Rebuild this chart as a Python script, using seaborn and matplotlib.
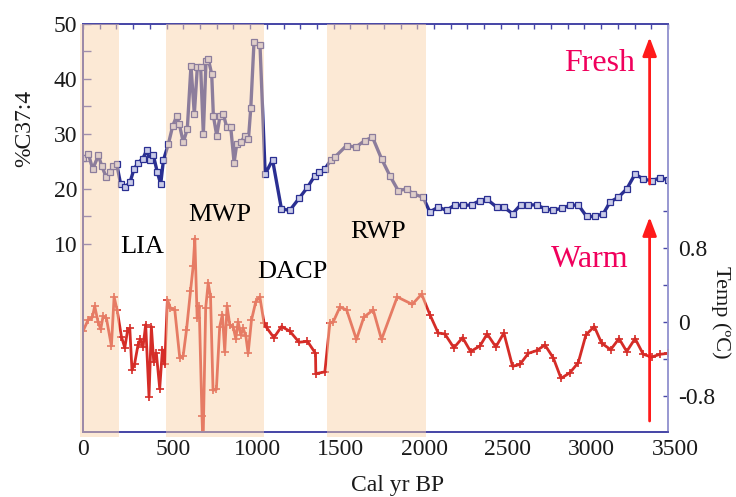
import matplotlib
matplotlib.use("Agg")
import matplotlib.pyplot as plt
import matplotlib.transforms as mtransforms
from matplotlib.ticker import FixedLocator
import pandas as pd
import seaborn as sns

# %C37:4 record (Cal yr BP, percent)
c37_years = [2, 32, 58, 92, 112, 138, 162, 182, 202,
             225, 251, 281, 305, 331, 357, 381, 401, 421, 445, 465, 481,
             511, 537, 560, 576, 600, 624, 646, 666, 684, 704, 720, 736, 750, 770,
             780, 800, 820, 840, 860, 884, 904, 920, 944, 970, 990, 1004, 1023, 1059, 1090,
             1134, 1187, 1237, 1293, 1343, 1387, 1413, 1447,
             1481, 1507, 1577, 1632, 1686, 1732, 1786, 1836, 1886, 1936, 1975, 2035,
             2075, 2125, 2175, 2225, 2276, 2325, 2375, 2418, 2475, 2518, 2570, 2618,
             2664, 2714, 2764, 2813, 2864, 2913, 2963, 3013, 3063, 3113, 3153, 3203,
             3253, 3303, 3352, 3402, 3452, 3500]
c37_pct = [25.6, 26.4, 23.6, 26.1, 24.2, 22.2, 23.1, 24.2, 24.5,
           20.9, 20.3, 21.2, 23.6, 24.8, 25.5, 27.0, 25.2, 26.1, 23.0, 20.9, 25.2,
           28.2, 31.5, 33.2, 31.8, 28.5, 30.9, 42.4, 33.6, 42.1, 42.1, 30.0, 43.3, 43.6, 40.9,
           33.3, 29.7, 33.3, 33.6, 31.2, 31.2, 24.8, 28.2, 28.5, 29.7, 29.1, 34.8, 46.7, 46.1, 22.7,
           25.3, 16.4, 16.1, 18.3, 20.3, 22.4, 23.0, 23.6,
           25.2, 25.8, 27.9, 27.6, 28.8, 29.4, 25.5, 22.4, 19.7, 20.0, 19.1, 18.5,
           15.8, 16.7, 16.1, 17.1, 17.0, 17.1, 17.9, 18.1, 16.7, 16.7, 15.5, 17.1,
           17.1, 17.1, 16.4, 16.1, 16.5, 17.0, 17.1, 15.0, 15.0, 15.5, 17.6, 18.5,
           20.0, 22.7, 21.8, 21.5, 22.0, 21.7]

# temperature anomaly record (Cal yr BP, deg C)
temp_years = [0, 30, 56, 70, 90, 106, 120, 140, 170, 186, 204,
              230, 250, 266, 280, 293, 309, 329, 343, 359, 375, 395, 409, 423, 439, 459, 475, 489,
              505, 523, 549, 579, 599, 619, 643, 659, 669, 683, 695, 712, 718, 734, 749, 763,
              778, 798, 818, 834, 848, 862, 878, 898, 914, 928, 944, 958, 974, 988, 1008,
              1034, 1058, 1083,
              1098, 1142, 1188, 1237, 1293, 1343, 1391, 1393, 1447,
              1477, 1497, 1537, 1577, 1636, 1680, 1736, 1786, 1880, 1970, 2026,
              2075, 2125, 2165, 2219, 2271, 2319, 2375, 2418, 2470, 2518, 2570, 2614,
              2664, 2714, 2764, 2814, 2860, 2913, 2963, 3009, 3059, 3103, 3157, 3207,
              3253, 3303, 3352, 3402, 3452, 3500]
temp_anom = [-0.10, 0.02, 0.05, 0.17, 0.00, -0.08, 0.06, 0.04, -0.26, 0.27, 0.13,
             -0.16, -0.28, -0.10, -0.07, -0.52, -0.45, -0.25, -0.19, -0.27, -0.03, -0.81, -0.05,
             -0.43, -0.34, -0.72, -0.30, -0.46,
             0.24, 0.15, 0.13, -0.39, -0.37, -0.09, 0.33, 0.60, 0.90, 0.04, 0.17, -1.02, -1.35,
             0.15, 0.42, 0.27,
             -0.74, -0.73, -0.05, 0.08, -0.32, 0.17, -0.03, -0.05, -0.18, 0.00, -0.14, -0.07,
             -0.15, -0.34, 0.02,
             0.22, 0.27, -0.01,
             -0.06, -0.17, -0.05, -0.10, -0.22, -0.21, -0.34, -0.56, -0.54,
             -0.01, 0.00, 0.16, 0.13, -0.19, 0.05, 0.13, -0.19, 0.27, 0.19, 0.30,
             0.08, -0.12, -0.13, -0.28, -0.17, -0.32, -0.26, -0.13, -0.27, -0.12, -0.48, -0.46,
             -0.34, -0.31, -0.25, -0.39, -0.61, -0.55, -0.44, -0.14, -0.05, -0.23, -0.30, -0.18,
             -0.32, -0.18, -0.35, -0.38, -0.35, -0.34]

# climate periods: shaded spans and label positions (on the %C37:4 axis)
period_spans = [(-15, 214), (497, 1085), (1459, 2052)]
period_names = ["LIA", "MWP", "DACP", "RWP"]
period_label_x = [356, 819, 1255, 1767]
period_label_y = [9.5, 15.3, 4.9, 12.2]

x_ticks = [0, 500, 1000, 1500, 2000, 2500, 3000, 3500]
left_ticks = [10, 20, 30, 40, 50]
right_ticks = [-0.8, 0, 0.8]
right_tick_labels = ["-0.8", "0", "0.8"]

BLUE = "#2a2f92"
RED = "#d52c27"
SHADE = "#f9d3a8"
PINK = "#f0005c"
SERIF = ["Liberation Serif", "DejaVu Serif"]

sns.set_theme(style="white")
plt.rcParams["font.family"] = SERIF
plt.rcParams["axes.unicode_minus"] = False

fig, ax = plt.subplots(figsize=(7.36, 4.97), dpi=100)
fig.subplots_adjust(left=83 / 736, right=668 / 736, top=1 - 24 / 497, bottom=1 - 432 / 497)
ax2 = ax.twinx()

c37 = pd.DataFrame({"year": c37_years, "pct": c37_pct})
temp = pd.DataFrame({"year": temp_years, "temp": temp_anom})

sns.lineplot(data=c37, x="year", y="pct", ax=ax, color=BLUE, lw=2.4, sort=False,
             estimator=None, marker="s", markersize=4.5, markerfacecolor="#c9cbe8",
             markeredgecolor=BLUE, markeredgewidth=0.9)
sns.lineplot(data=temp, x="year", y="temp", ax=ax2, color=RED, lw=2.0, sort=False,
             estimator=None, marker="+", markersize=5.5, markeredgecolor=RED,
             markeredgewidth=1.2)

for start, end in period_spans:
    ax2.axvspan(start, end, ymin=-0.012, ymax=1, color=SHADE, alpha=0.48, lw=0,
                zorder=4, clip_on=False)

ax.set_xlim(0, 3500)
ax.set_ylim(-24.2, 50)
ax2.set_ylim(-1.19, 3.22)

ax.set_xticks(x_ticks)
ax.xaxis.set_minor_locator(FixedLocator(range(0, 3501, 100)))
ax.set_yticks(left_ticks)
ax.yaxis.set_minor_locator(FixedLocator([15, 25, 35, 45]))
ax2.set_yticks(right_ticks)
ax2.set_yticklabels(right_tick_labels)
ax2.yaxis.set_minor_locator(FixedLocator([-0.4, 0.4, 1.2]))

ax.tick_params(axis="x", which="both", direction="in", top=True, length=3.5, width=1,
               color="#4848a8", labelsize=17, pad=5, labelcolor="#1a1a1a")
ax.tick_params(axis="y", which="both", direction="in", length=6, width=1,
               color="#5252b0", labelsize=17, pad=4, labelcolor="#1a1a1a")
ax2.tick_params(axis="y", which="both", direction="in", length=3.5, width=1,
                color="#4848a8", labelsize=17, pad=7, labelcolor="#1a1a1a")

for a in (ax, ax2):
    for side in ("left", "bottom", "top"):
        a.spines[side].set_color("#4848a8")
        a.spines[side].set_linewidth(1.3)
    a.spines["right"].set_color("#9a9ad2")
    a.spines["right"].set_linewidth(1.3)

ax.set_xlabel("Cal yr BP", fontsize=17, color="#1a1a1a", va="center")
ax.xaxis.set_label_coords(0.537, -0.132)
ax.set_ylabel("%C37:4", fontsize=17, color="#1a1a1a", va="center")
ax.yaxis.set_label_coords(-0.100, 0.745)
ax2.set_ylabel("Temp (ºC)", fontsize=16, color="#1a1a1a", rotation=270, va="center")
ax2.yaxis.set_label_coords(1.090, 0.294)

# the source figure's x tick labels sit a little right of their ticks
shift = mtransforms.ScaledTranslation(7 / 100, 0, fig.dpi_scale_trans)
for lbl in ax.get_xticklabels()[1:]:
    lbl.set_transform(lbl.get_transform() + shift)

for name, lx, ly in zip(period_names, period_label_x, period_label_y):
    ax2.text(lx, ly, name, transform=ax.transData, fontsize=19, ha="center",
             va="center", color="black", zorder=6)

ax2.text(3093, 42.9, "Fresh", transform=ax.transData, fontsize=23, color=PINK,
         ha="center", va="center", zorder=6)
ax2.text(3030, 7.1, "Warm", transform=ax.transData, fontsize=23, color=PINK,
         ha="center", va="center", zorder=6)

arrow = dict(arrowstyle="-|>,head_length=0.8,head_width=0.3", color="#ff1a1a", lw=2,
             shrinkA=0, shrinkB=0, mutation_scale=14)
ax2.annotate("", xy=(3390, 47.6), xytext=(3390, 20.9), xycoords=ax.transData,
             textcoords=ax.transData, arrowprops=arrow, zorder=6)
ax2.annotate("", xy=(3390, 14.9), xytext=(3390, -22.2), xycoords=ax.transData,
             textcoords=ax.transData, arrowprops=arrow, zorder=6)

ax.grid(False)
ax2.grid(False)
fig.savefig("out.png", dpi=100)
plt.close(fig)
